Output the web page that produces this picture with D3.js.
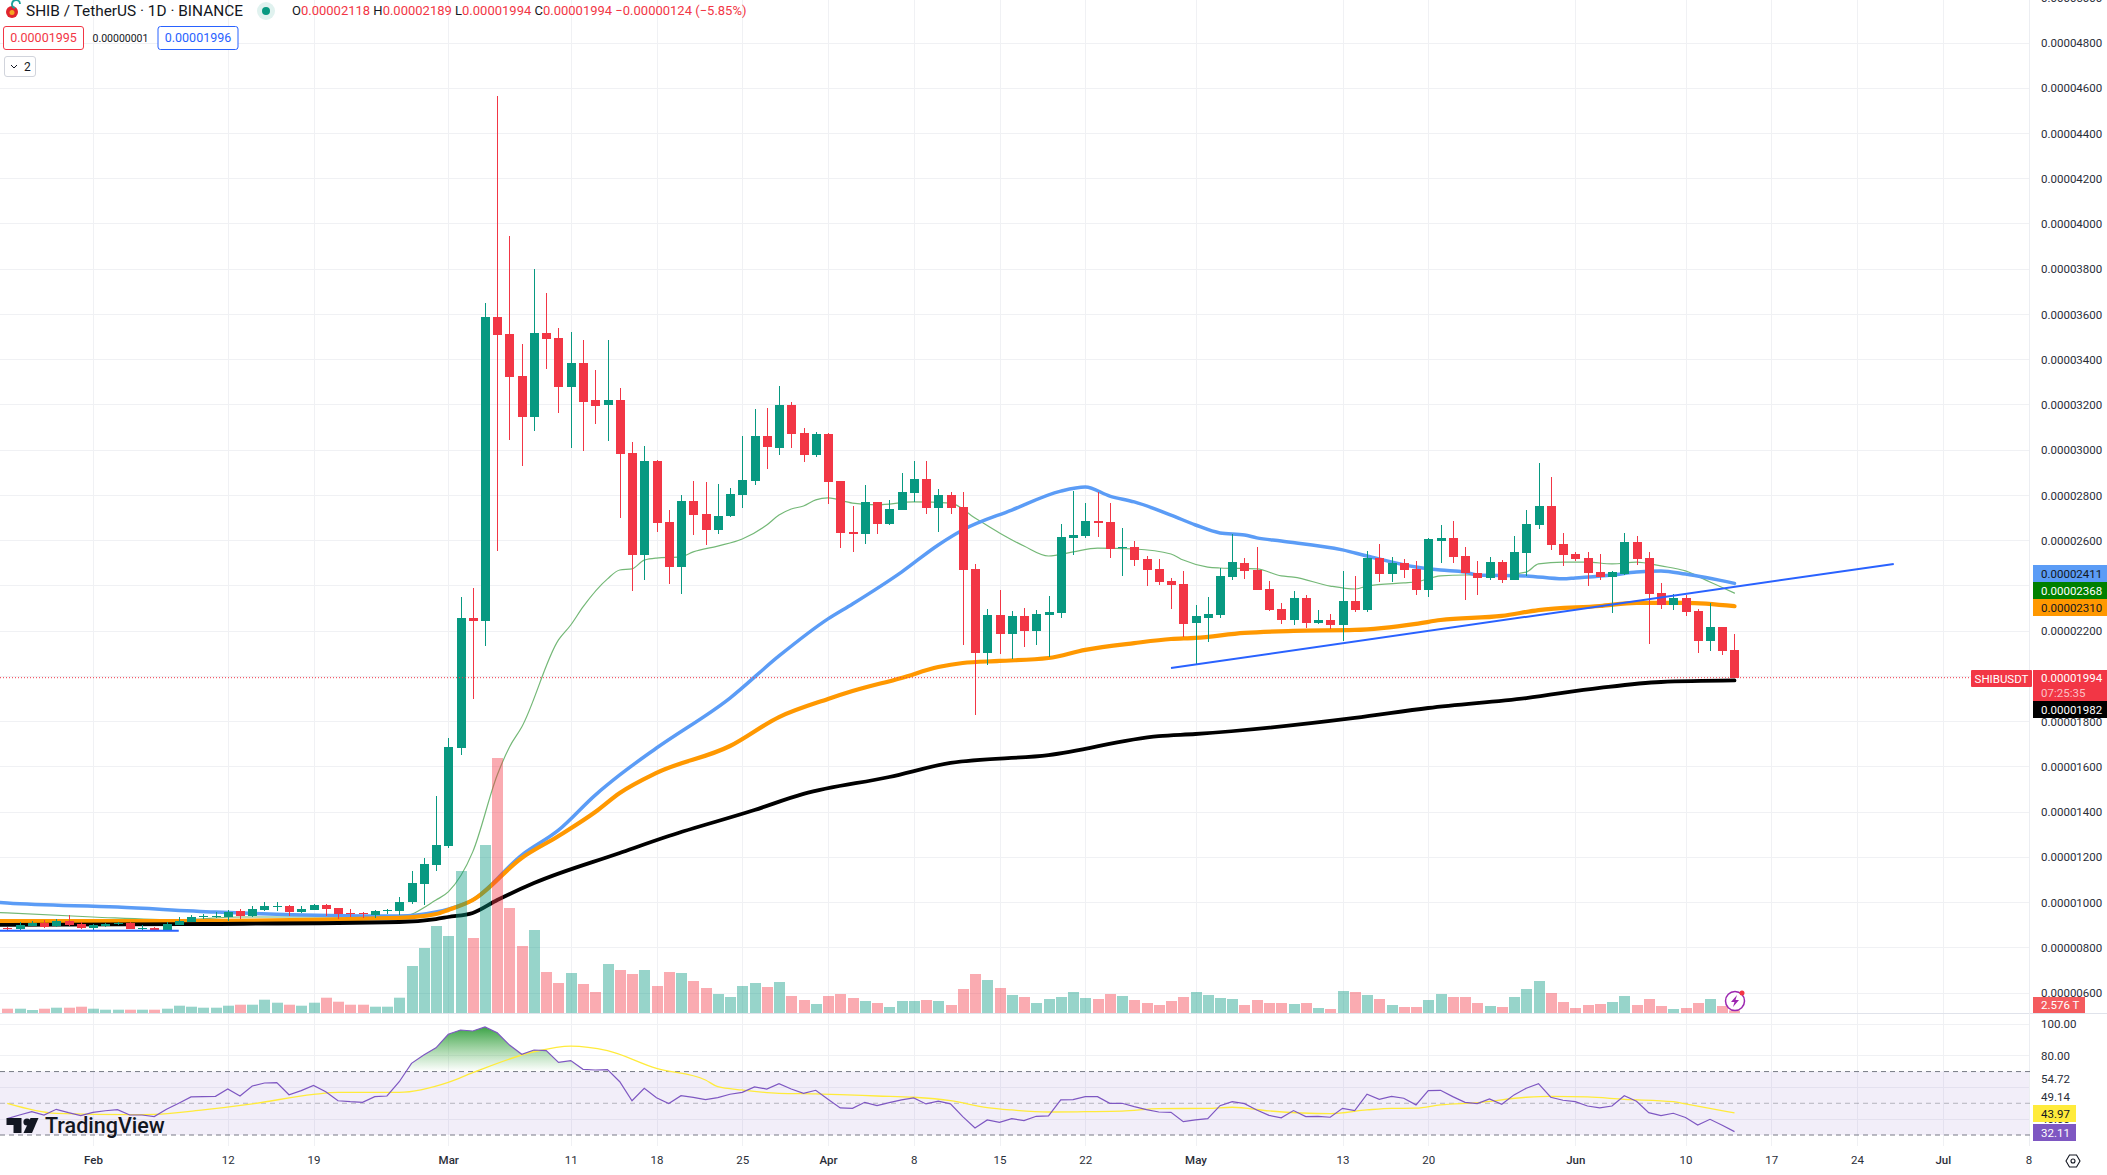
<!DOCTYPE html>
<html>
<head>
<meta charset="utf-8">
<title>SHIB / TetherUS</title>
<script src="https://cdnjs.cloudflare.com/ajax/libs/d3/7.8.5/d3.min.js"></script>
<style>
  html, body { margin: 0; padding: 0; background: #fff; overflow: hidden; }
  svg { display: block; }
  text { font-family: Roboto, "Liberation Sans", sans-serif; fill: #131722; }
  .axis text { font-size: 11.5px; fill: #2a2e39; }
</style>
</head>
<body>
<svg width="2107" height="1175" viewBox="0 0 2107 1175"></svg>
<script>
// all prices are in units of 0.00000001, volume in trillions
var barOpen = [
  889,883,898,909,898,918,905,889,898,905,
  909,884,887,878,902,915,934,934,937,963,
  942,967,982,985,958,968,990,976,954,955,
  945,963,964,1002,1082,1166,1250,1683,2258,2244,
  3588,3513,3327,3146,3518,3496,3278,3386,3221,3199,
  3221,2988,2536,2951,2681,2482,2774,2718,2647,2708,
  2801,2863,3062,3010,3200,3076,2978,3071,2864,2638,
  2629,2771,2673,2735,2810,2872,2744,2802,2749,2475,
  2103,2271,2187,2267,2200,2271,2280,2611,2620,2687,
  2682,2566,2572,2519,2475,2421,2408,2236,2258,2271,
  2439,2501,2470,2386,2298,2249,2346,2236,2249,2227,
  2333,2293,2525,2453,2501,2475,2382,2598,2612,2532,
  2457,2435,2506,2426,2545,2669,2753,2585,2541,2523,
  2461,2439,2453,2594,2523,2369,2315,2346,2289,2156,
  2218,2118
];
var barHigh = [
  893,914,917,923,926,945,914,905,911,914,
  914,899,892,912,937,945,949,960,965,970,
  985,1002,1002,989,985,993,993,976,971,960,
  967,973,1024,1139,1195,1471,1727,2350,2390,3651,
  4565,3946,3469,3801,3695,3540,3521,3487,3354,3487,
  3275,3035,3018,2956,2735,2801,2863,2858,2850,2833,
  3062,3182,3187,3283,3213,3098,3080,3076,2864,2753,
  2846,2771,2780,2899,2952,2952,2828,2815,2815,2497,
  2298,2382,2289,2302,2293,2355,2673,2819,2766,2815,
  2766,2656,2598,2532,2519,2435,2466,2315,2351,2479,
  2629,2523,2572,2422,2324,2377,2360,2293,2276,2466,
  2444,2554,2585,2528,2519,2510,2612,2669,2687,2572,
  2510,2528,2514,2621,2736,2943,2881,2634,2550,2550,
  2541,2466,2634,2621,2550,2413,2364,2360,2298,2324,
  2218,2189
];
var barLow = [
  873,876,896,886,890,898,881,876,890,901,
  881,876,876,873,899,912,926,930,918,926,
  937,963,963,940,955,965,942,927,936,933,
  932,949,945,993,989,1139,1241,1652,1900,2134,
  2555,3046,2931,3086,3360,3166,3011,2997,3117,3041,
  2702,2378,2427,2636,2410,2366,2626,2582,2631,2703,
  2746,2847,2918,2978,3010,2947,2970,2762,2567,2550,
  2585,2629,2669,2735,2771,2718,2638,2718,2138,1829,
  2050,2099,2077,2130,2138,2085,2258,2536,2611,2616,
  2523,2443,2487,2399,2404,2298,2174,2055,2152,2258,
  2426,2430,2382,2289,2231,2227,2214,2231,2209,2156,
  2285,2285,2417,2417,2435,2360,2351,2501,2501,2338,
  2360,2426,2413,2426,2444,2652,2559,2488,2510,2400,
  2426,2280,2448,2492,2143,2298,2293,2267,2103,2112,
  2095,1994
];
var barClose = [
  883,902,908,892,918,901,889,901,905,908,
  884,887,878,905,918,936,939,940,960,942,
  971,985,985,960,971,990,971,949,951,951,
  963,967,1002,1086,1170,1254,1687,2258,2244,3588,
  3509,3322,3146,3518,3491,3278,3386,3212,3194,3221,
  2983,2536,2951,2678,2482,2774,2713,2647,2708,2806,
  2868,3062,3013,3199,3071,2978,3071,2859,2634,2629,
  2771,2673,2740,2815,2872,2744,2802,2744,2470,2103,
  2271,2187,2267,2200,2276,2285,2616,2625,2687,2678,
  2563,2572,2514,2470,2417,2404,2231,2267,2276,2444,
  2506,2466,2382,2293,2249,2346,2236,2249,2227,2333,
  2293,2523,2453,2501,2470,2382,2607,2612,2528,2457,
  2435,2506,2426,2550,2674,2753,2581,2537,2519,2457,
  2439,2461,2594,2519,2364,2315,2346,2285,2156,2218,
  2112,1994
];
var barVolume = [
  4.3,4.3,3,4.3,5.3,5.3,6.3,4.3,3.3,3.3,
  3.3,3.3,3.3,4.3,7.3,6.3,5.3,5.3,7.3,8.3,
  8.3,13.3,10.3,8.3,7.3,10.3,15.3,11.3,8.3,8.3,
  6.3,6.3,15.3,47,65,87,77,142,75,168,
  255,105,67,83,41,30,40,29,21,49,
  43,39,43,27,41,40,32,25,19,16,
  27,30,26,31,17,13,9,17,19,15,
  12,10,6,12,12,13,12,8,24,39,
  33,25,18,16,10,14,16,21,15,14,
  19,17,13,10,8,12,16,21,18,15,
  14,8,13,10,10,9,10,5,4,22,
  21,18,14,8,6,6,13,19,16,16,
  10,7,6,16,24,32,20,11,5,8,
  9,11,17,8,14,7,4,5,10,14,
  7,2.576
];
var rsiValues = [
  40.3,42.6,44.7,42.6,46.2,44.1,42.2,44.3,45.3,46,
  42.6,42.6,41.6,46.2,50,54,54.2,54.4,59,54.6,
  60.9,62.8,63,55.4,58,61.3,57.3,51.6,51,50.6,
  54.2,54.6,63.6,75.2,80.4,85,93.5,96.2,95.6,98.1,
  94.5,86.7,80.9,83.6,83.2,75.8,76.9,71.4,71,71.2,
  63.6,51.6,59.4,53.5,49.8,54.8,53.7,52.3,53.6,55.7,
  56.9,60.3,59,62.4,59,56.3,58.2,52.5,47.1,46.8,
  50.6,48.5,50.4,52.1,53.4,49.6,51.3,49.6,41.6,34.4,
  39.5,38,40.3,39.1,41.8,42,52.1,52.3,54.2,54.2,
  50,50,47.9,46,44.5,44.3,38.4,39.5,40.3,48.5,
  51,49.8,45.8,42.4,40.8,45.4,41.6,41.8,41.2,46.8,
  45.4,55.7,52.5,54.4,53.2,49,58,58.2,54.2,50.6,
  49.8,52.7,49.4,55.3,59.5,62.4,53.8,51.9,51,48.3,
  47.1,48.3,54.8,51.3,44.1,42.2,43.7,41,36.3,39.9,
  36.1,32.11
];

var rsiMaBars = [0,4,10,12,16,20,25,27,32,36,38,43,46,49,53,57,58,60,63,66,68,71,74,77,80,82,85,88,91,94,98,100,103,108,111,113,115,117,120,124,126,129,132,136,137,141];
var rsiMaValues = [50,43.7,42.8,43,45.8,49.6,55.6,56.9,56.9,63.2,69.3,82.5,86.1,83.2,72,64.7,60.5,58.4,56.3,55.9,55.5,54.6,53.8,51.7,47.3,45.8,44.5,44.7,45,46.6,46.8,47.5,45.2,43.5,45.8,46.8,46.9,49,50.4,53.8,54.4,54,52.5,51,49.6,43.97];

var blackBars = [-1,0,16,32,35,36,38,40,43,50,54,61,65,72,77,85,94,97,110,116,124,130,135,141];
var blackValues = [901,901,905,914,927,936,954,1011,1086,1219,1294,1409,1480,1555,1617,1652,1736,1745,1816,1860,1904,1949,1975,1982];

var orangeBars = [-1,0,14,32,35,36,38,42,45,48,50,53,59,63,67,69,73,76,78,81,85,88,92,95,97,101,105,110,115,117,122,125,130,133,137,141];
var orangeValues = [918,918,918,932,949,967,1011,1197,1294,1400,1484,1573,1692,1820,1900,1935,1993,2041,2059,2068,2081,2117,2147,2165,2170,2192,2201,2205,2232,2249,2267,2293,2311,2325,2325,2310];

var blueBars = [-1,0,9,17,32,35,36,38,42,45,48,50,53,59,63,67,69,73,76,78,82,86,88,90,92,95,97,99,101,102,104,109,111,115,117,119,120,124,127,128,131,133,135,137,141];
var blueValues = [1002,998,980,958,940,958,971,1011,1210,1320,1475,1564,1683,1904,2090,2254,2320,2461,2581,2647,2735,2819,2837,2797,2771,2713,2669,2634,2625,2612,2598,2559,2532,2483,2470,2461,2448,2444,2431,2435,2448,2461,2466,2452,2411];

var greenBars = [-1,0,7,14,19,32,35,36,38,40,41,42,45,46,47,49,50,51,52,53,55,56,58,60,62,63,64,65,66,67,69,71,74,77,79,81,83,85,87,89,92,95,96,98,99,102,104,105,108,110,111,114,115,117,119,122,124,125,127,129,131,133,135,137,139,141];
var greenValues = [957,954,936,923,936,936,1011,1047,1224,1564,1688,1776,2161,2227,2307,2431,2470,2475,2514,2523,2528,2550,2576,2607,2669,2713,2740,2753,2780,2789,2766,2758,2771,2766,2700,2634,2576,2532,2550,2567,2563,2541,2514,2483,2479,2475,2444,2439,2399,2386,2399,2413,2417,2444,2448,2448,2461,2497,2505,2505,2497,2505,2488,2466,2417,2368];

// hand drawn trend lines, as [bar, price] ends
var trendLong = [[95, 2037], [154, 2497]];
var trendShort = [[-1, 875], [14, 875]];

// 0.00002400 sits fully behind the green tag, so it is left out
var priceTicks = [600,800,1000,1200,1400,1600,1800,2000,2200,2600,2800,3000,3200,3400,3600,3800,4000,4200,4400,4600,4800,5000];
var gridPrices = d3.range(600, 5001, 200);
var rsiGridLevels = [100, 80, 60, 40];
var timeBars = [7,18,25,36,46,53,60,67,74,81,88,97,109,116,128,137,144,151,158,165];
var timeLabels = ['Feb','12','19','Mar','11','18','25','Apr','8','15','22','May','13','20','Jun','10','17','24','Jul','8'];

var lastPrice = 1994;

var svg = d3.select('svg');

var xBar = d3.scaleLinear().domain([0, 165]).range([7.25, 2028.5]);
var yPrice = d3.scaleLinear().domain([600, 4800]).range([993, 43]);
var yVolume = d3.scaleLinear().domain([0, 255]).range([1013, 758]);
var yRsi = d3.scaleLinear().domain([30, 100]).range([1135, 1024]);

var plotRight = 2029;
var greenCandle = '#089981';
var redCandle = '#f23645';
var bars = d3.range(barOpen.length);

function isUp(i) {
  return barClose[i] >= barOpen[i];
}
function fmtPrice(p) {
  return (p * 1e-8).toFixed(8);
}

// grid
var grid = svg.append('g').attr('shape-rendering', 'crispEdges').attr('stroke', '#f0f1f4');
grid.selectAll('line.v').data(timeBars).enter().append('line')
  .attr('x1', function (d) { return Math.round(xBar(d)) + 0.5; })
  .attr('x2', function (d) { return Math.round(xBar(d)) + 0.5; })
  .attr('y1', 0).attr('y2', 1146);
grid.selectAll('line.h').data(gridPrices).enter().append('line')
  .attr('x1', 0).attr('x2', plotRight)
  .attr('y1', function (d) { return yPrice(d); })
  .attr('y2', function (d) { return yPrice(d); });
grid.selectAll('line.r').data(rsiGridLevels).enter().append('line')
  .attr('x1', 0).attr('x2', plotRight)
  .attr('y1', function (d) { return yRsi(d); })
  .attr('y2', function (d) { return yRsi(d); });

// moving averages sit under the candles
function maPath(barsList, valuesList) {
  var pts = barsList.map(function (b, i) { return [b, valuesList[i]]; });
  return d3.line()
    .x(function (d) { return xBar(d[0]); })
    .y(function (d) { return yPrice(d[1]); })
    .curve(d3.curveMonotoneX)(pts);
}
function addMa(barsList, valuesList, color, width) {
  svg.append('path')
    .attr('d', maPath(barsList, valuesList))
    .attr('fill', 'none')
    .attr('stroke', color)
    .attr('stroke-width', width)
    .attr('stroke-linecap', 'round');
}
addMa(greenBars, greenValues, '#74b877', 1.2);
addMa(blueBars, blueValues, '#5b9cf6', 3.5);
addMa(orangeBars, orangeValues, '#ff9800', 4.2);
addMa(blackBars, blackValues, '#000000', 3.8);

// volume
svg.append('g').selectAll('rect').data(bars).enter().append('rect')
  .attr('x', function (d) { return Math.round(xBar(d)) - 5; })
  .attr('width', 11)
  .attr('y', function (d) { return yVolume(barVolume[d]); })
  .attr('height', function (d) { return yVolume(0) - yVolume(barVolume[d]); })
  .attr('fill', function (d) { return isUp(d) ? greenCandle : redCandle; })
  .attr('fill-opacity', 0.42);

// candles
var candles = svg.append('g').attr('shape-rendering', 'crispEdges');
candles.selectAll('rect.wick').data(bars).enter().append('rect')
  .attr('class', 'wick')
  .attr('x', function (d) { return Math.round(xBar(d)); })
  .attr('width', 1)
  .attr('y', function (d) { return yPrice(barHigh[d]); })
  .attr('height', function (d) { return yPrice(barLow[d]) - yPrice(barHigh[d]); })
  .attr('fill', function (d) { return isUp(d) ? greenCandle : redCandle; });
candles.selectAll('rect.body').data(bars).enter().append('rect')
  .attr('class', 'body')
  .attr('x', function (d) { return Math.round(xBar(d)) - 4; })
  .attr('width', 9)
  .attr('y', function (d) { return yPrice(Math.max(barOpen[d], barClose[d])); })
  .attr('height', function (d) { return Math.max(1, Math.abs(yPrice(barOpen[d]) - yPrice(barClose[d]))); })
  .attr('fill', function (d) { return isUp(d) ? greenCandle : redCandle; });

// trend lines
[trendLong, trendShort].forEach(function (t) {
  svg.append('line')
    .attr('x1', xBar(t[0][0])).attr('y1', yPrice(t[0][1]))
    .attr('x2', xBar(t[1][0])).attr('y2', yPrice(t[1][1]))
    .attr('stroke', '#2962ff')
    .attr('stroke-width', 2);
});

// last price line
svg.append('line')
  .attr('x1', 0).attr('x2', 1971)
  .attr('y1', yPrice(lastPrice)).attr('y2', yPrice(lastPrice))
  .attr('stroke', redCandle)
  .attr('stroke-dasharray', '1,2');

// pane separator and price axis border
svg.append('line').attr('x1', 0).attr('x2', 2107).attr('y1', 1013.5).attr('y2', 1013.5).attr('stroke', '#e0e3eb');
svg.append('line').attr('x1', plotRight + 0.5).attr('x2', plotRight + 0.5).attr('y1', 0).attr('y2', 1146).attr('stroke', '#eceef2');

// rsi pane
svg.append('rect')
  .attr('x', 0).attr('width', plotRight)
  .attr('y', yRsi(70)).attr('height', yRsi(30) - yRsi(70))
  .attr('fill', '#7e57c2').attr('fill-opacity', 0.1);
[70, 50, 30].forEach(function (lvl) {
  svg.append('line')
    .attr('x1', 0).attr('x2', plotRight + 3)
    .attr('y1', yRsi(lvl)).attr('y2', yRsi(lvl))
    .attr('stroke', '#787b86')
    .attr('stroke-opacity', lvl === 50 ? 0.5 : 1)
    .attr('stroke-dasharray', '5,4');
});

var defs = svg.append('defs');
var grad = defs.append('linearGradient')
  .attr('id', 'rsiOver')
  .attr('gradientUnits', 'userSpaceOnUse')
  .attr('x1', 0).attr('x2', 0)
  .attr('y1', yRsi(100)).attr('y2', yRsi(70));
grad.append('stop').attr('offset', 0).attr('stop-color', '#2e9c3a').attr('stop-opacity', 1);
grad.append('stop').attr('offset', 1).attr('stop-color', '#4caf50').attr('stop-opacity', 0);
defs.append('clipPath').attr('id', 'rsiTop').append('rect')
  .attr('x', 0).attr('width', plotRight).attr('y', 0).attr('height', yRsi(70));

svg.append('path')
  .attr('clip-path', 'url(#rsiTop)')
  .attr('fill', 'url(#rsiOver)')
  .attr('d', d3.area()
    .x(function (d) { return xBar(d); })
    .y0(yRsi(70))
    .y1(function (d) { return yRsi(rsiValues[d]); })(bars));

svg.append('path')
  .attr('fill', 'none')
  .attr('stroke', '#ffeb3b')
  .attr('stroke-width', 1.3)
  .attr('d', d3.line()
    .x(function (d, i) { return xBar(rsiMaBars[i]); })
    .y(function (d) { return yRsi(d); })
    .curve(d3.curveMonotoneX)(rsiMaValues));

svg.append('path')
  .attr('fill', 'none')
  .attr('stroke', '#7e57c2')
  .attr('stroke-width', 1.2)
  .attr('d', d3.line()
    .x(function (d) { return xBar(d); })
    .y(function (d) { return yRsi(rsiValues[d]); })(bars));

// lightning badge on the last volume bar
var badge = svg.append('g').attr('transform', 'translate(1735,1001)');
badge.append('circle').attr('r', 9.5).attr('fill', 'rgba(255,255,255,0.7)').attr('stroke', '#9c27b0').attr('stroke-width', 1.5);
badge.append('path').attr('d', 'M2,-6 L-4,1 L-0.5,1 L-2,6 L4,-1 L0.5,-1 Z').attr('fill', '#9c27b0');
badge.append('circle').attr('cx', 7).attr('cy', -8).attr('r', 2.5).attr('fill', '#f23645');

// axes
var priceAxis = svg.append('g')
  .attr('class', 'axis')
  .attr('transform', 'translate(' + plotRight + ',0)')
  .call(d3.axisRight(yPrice).tickValues(priceTicks).tickSize(0).tickPadding(12).tickFormat(fmtPrice));
priceAxis.select('.domain').remove();

var rsiAxis = svg.append('g')
  .attr('class', 'axis')
  .attr('transform', 'translate(' + plotRight + ',0)')
  .call(d3.axisRight(yRsi).tickValues([100, 80, 40]).tickSize(0).tickPadding(12).tickFormat(function (d) { return d.toFixed(2); }));
rsiAxis.select('.domain').remove();

var timeAxis = svg.append('g')
  .attr('class', 'axis')
  .attr('transform', 'translate(0,1151)')
  .call(d3.axisBottom(xBar).tickValues(timeBars).tickSize(0).tickPadding(5).tickFormat(function (d, i) { return timeLabels[i]; }));
timeAxis.select('.domain').remove();
timeAxis.selectAll('text').style('font-weight', function (d, i) {
  return isNaN(+timeLabels[i]) ? 500 : 400;
});

// plain rsi side values without a grid level of their own
[[54.72, 1079], [49.14, 1097]].forEach(function (d) {
  svg.append('text').attr('x', 2041).attr('y', d[1]).attr('dy', '0.35em')
    .style('font-size', '11.5px').style('fill', '#2a2e39').text(d[0].toFixed(2));
});

// colored labels on the right
function axisTag(y0, y1, width, fill, label, color) {
  svg.append('rect').attr('x', 2033).attr('y', y0).attr('width', width).attr('height', y1 - y0).attr('fill', fill);
  svg.append('text').attr('x', 2041).attr('y', (y0 + y1) / 2).attr('dy', '0.35em')
    .style('font-size', '11.5px').style('fill', color).text(label);
}
axisTag(565, 582, 74, '#5b9cf6', '0.00002411', '#131722');
axisTag(582, 599, 74, '#008000', '0.00002368', '#ffffff');
axisTag(599, 616, 74, '#ff9800', '0.00002310', '#131722');
axisTag(670, 701, 74, redCandle, '', '#ffffff');
svg.append('text').attr('x', 2041).attr('y', 682).style('font-size', '11.5px').style('fill', '#fff').text('0.00001994');
svg.append('text').attr('x', 2041).attr('y', 697).style('font-size', '11.5px').style('fill', 'rgba(255,255,255,0.7)').text('07:25:35');
axisTag(701, 718, 74, '#000000', '0.00001982', '#ffffff');
axisTag(997, 1013, 52, '#f45b5e', '2.576 T', '#ffffff');
axisTag(1105, 1122, 43, '#ffeb3b', '43.97', '#131722');
axisTag(1124, 1141, 43, '#7e57c2', '32.11', '#ffffff');

svg.append('rect').attr('x', 1971).attr('y', 670).attr('width', 61).attr('height', 17).attr('rx', 1).attr('fill', redCandle);
svg.append('text').attr('x', 2001.5).attr('y', 678.5).attr('dy', '0.35em').attr('text-anchor', 'middle')
  .style('font-size', '11.5px').style('fill', '#fff').text('SHIBUSDT');

// settings hexagon in the corner
var gear = svg.append('g').attr('transform', 'translate(2073,1161)').attr('fill', 'none').attr('stroke', '#131722').attr('stroke-width', 1.1);
gear.append('path').attr('d', 'M-7,0 L-3.5,-6 L3.5,-6 L7,0 L3.5,6 L-3.5,6 Z');
gear.append('circle').attr('r', 2);

// legend
var legend = svg.append('g');
legend.append('circle').attr('cx', 12).attr('cy', 12).attr('r', 6).attr('fill', '#e0242e');
legend.append('circle').attr('cx', 12).attr('cy', 12.5).attr('r', 2.5).attr('fill', '#f5a623');
legend.append('path').attr('d', 'M15,8 A4,4 0 1 1 20,4').attr('fill', 'none').attr('stroke', '#1aa39a').attr('stroke-width', 1.8);
legend.append('text').attr('x', 26).attr('y', 15.5).style('font-size', '15.4px').text('SHIB / TetherUS \u00b7 1D \u00b7 BINANCE');
legend.append('circle').attr('cx', 266).attr('cy', 11).attr('r', 9).attr('fill', '#e0f2ef');
legend.append('circle').attr('cx', 266).attr('cy', 11).attr('r', 4).attr('fill', '#089981');

var ohlc = legend.append('text').attr('x', 292).attr('y', 15).style('font-size', '13px');
[['O', '0.00002118'], [' H', '0.00002189'], [' L', '0.00001994'], [' C', '0.00001994'], [' ', '\u22120.00000124 (\u22125.85%)']].forEach(function (p) {
  ohlc.append('tspan').attr('xml:space', 'preserve').style('fill', '#131722').text(p[0] === ' ' ? '\u00a0' : p[0].replace(' ', '\u00a0'));
  ohlc.append('tspan').style('fill', redCandle).text(p[1]);
});

legend.append('rect').attr('x', 3.5).attr('y', 26.5).attr('width', 80).attr('height', 23).attr('rx', 2.5).attr('fill', '#fff').attr('stroke', redCandle);
legend.append('text').attr('x', 43.5).attr('y', 38).attr('dy', '0.35em').attr('text-anchor', 'middle').style('font-size', '12.5px').style('fill', redCandle).text('0.00001995');
legend.append('text').attr('x', 120.5).attr('y', 38).attr('dy', '0.35em').attr('text-anchor', 'middle').style('font-size', '10.5px').text('0.00000001');
legend.append('rect').attr('x', 158).attr('y', 26.5).attr('width', 80).attr('height', 23).attr('rx', 2.5).attr('fill', '#fff').attr('stroke', '#2962ff');
legend.append('text').attr('x', 198).attr('y', 38).attr('dy', '0.35em').attr('text-anchor', 'middle').style('font-size', '12.5px').style('fill', '#2962ff').text('0.00001996');
legend.append('rect').attr('x', 4.5).attr('y', 56.5).attr('width', 31).attr('height', 20).attr('rx', 2.5).attr('fill', '#fff').attr('stroke', '#d1d4dc');
legend.append('path').attr('d', 'M11,65 L14,68 L17,65').attr('fill', 'none').attr('stroke', '#131722');
legend.append('text').attr('x', 24).attr('y', 66.5).attr('dy', '0.35em').style('font-size', '12px').text('2');

// watermark
var logo = svg.append('g').attr('fill', '#131722').attr('transform', 'translate(1.5,0)');
logo.append('path').attr('d', 'M5,1118 H20 V1133 H12 V1125 H5 Z');
logo.append('circle').attr('cx', 25.5).attr('cy', 1122).attr('r', 3.6);
logo.append('path').attr('d', 'M37,1118 L30.5,1133 H22 L29,1118 Z');
logo.append('text').attr('x', 43.5).attr('y', 1133).style('font-size', '21.5px').style('font-weight', 500).text('TradingView');
</script>
</body>
</html>
